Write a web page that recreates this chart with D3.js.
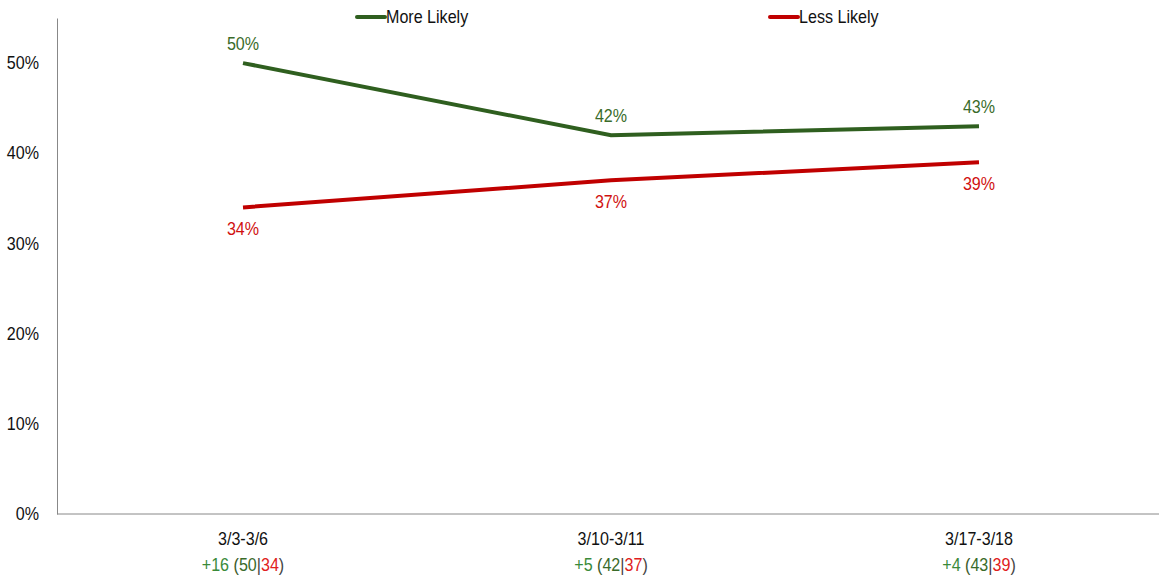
<!DOCTYPE html>
<html>
<head>
<meta charset="utf-8">
<script src="https://cdn.jsdelivr.net/npm/d3@7"></script>
<style>
body { margin: 0; background: #fff; }
text { font-family: "Liberation Sans", Arial, sans-serif; }
</style>
</head>
<body>
<svg id="chart" width="1159" height="575"></svg>
<script>
var categories = ["3/3-3/6", "3/10-3/11", "3/17-3/18"];
var moreLikely = [50, 42, 43];
var lessLikely = [34, 37, 39];
var yTicks = [0, 10, 20, 30, 40, 50];

var green = "#2f5f1f", red = "#c00000";
var fs = 17.5;
var svg = d3.select("#chart");

var x = d3.scaleBand().domain(categories).range([59, 1163]);
var y = d3.scaleLinear().domain([0, 55]).range([514, 18]);

// axes
var yAxis = svg.append("g").attr("transform", "translate(57,0)")
    .call(d3.axisLeft(y).tickValues(yTicks).tickSize(0).tickPadding(18).tickFormat(function(d){ return d + "%"; }));
yAxis.select(".domain").attr("stroke", "#888");
yAxis.selectAll("text").attr("font-size", fs).attr("fill", "#111");

svg.append("line").attr("x1", 57).attr("x2", 1159).attr("y1", y(0)).attr("y2", y(0)).attr("stroke", "#888");

var xAxis = svg.append("g").attr("transform", "translate(0," + y(0) + ")")
    .call(d3.axisBottom(x).tickSize(0).tickPadding(19));
xAxis.select(".domain").remove();
xAxis.selectAll("text").attr("font-size", fs).attr("fill", "#111");

// subtitles: difference (more|less)
categories.forEach(function(c, i){
    var t = svg.append("text").attr("x", x(c) + x.bandwidth()/2).attr("y", 571)
        .attr("text-anchor", "middle").attr("font-size", fs);
    var diff = moreLikely[i] - lessLikely[i];
    t.append("tspan").attr("fill", "#3a8a3a").text("+" + diff + " ");
    t.append("tspan").attr("fill", "#3a5a2a").text("(");
    t.append("tspan").attr("fill", "#3a6b2a").text(moreLikely[i]);
    t.append("tspan").attr("fill", "#444").text("|");
    t.append("tspan").attr("fill", "#e02020").text(lessLikely[i]);
    t.append("tspan").attr("fill", "#444").text(")");
});

var line = d3.line()
    .x(function(d, i){ return x(categories[i]) + x.bandwidth()/2; })
    .y(function(d){ return y(d); });

var series = [
    {name: "More Likely", values: moreLikely, color: green, dy: -13, legendX: 357, textColor: "#3a6b2a"},
    {name: "Less Likely", values: lessLikely, color: red, dy: 28, legendX: 770, textColor: "#d01010"}
];

series.forEach(function(s){
    svg.append("path").datum(s.values).attr("d", line)
        .attr("fill", "none").attr("stroke", s.color).attr("stroke-width", 4);
    svg.selectAll(null).data(s.values).enter().append("text")
        .attr("x", function(d, i){ return x(categories[i]) + x.bandwidth()/2; })
        .attr("y", function(d){ return y(d) + s.dy; })
        .attr("text-anchor", "middle").attr("font-size", fs).attr("fill", s.textColor)
        .text(function(d){ return d + "%"; });
    svg.append("line").attr("x1", s.legendX).attr("x2", s.legendX + 28).attr("y1", 17).attr("y2", 17)
        .attr("stroke", s.color).attr("stroke-width", 4).attr("stroke-linecap", "round");
    svg.append("text").attr("x", s.legendX + 29).attr("y", 23).attr("font-size", fs).attr("fill", "#111")
        .text(s.name);
});

// slightly condensed, like the original font
svg.selectAll("text").attr("transform", function(){
    var tx = +this.getAttribute("x") || 0;
    return "translate(" + tx + ",0) scale(0.92,1) translate(" + (-tx) + ",0)";
});
</script>
</body>
</html>
